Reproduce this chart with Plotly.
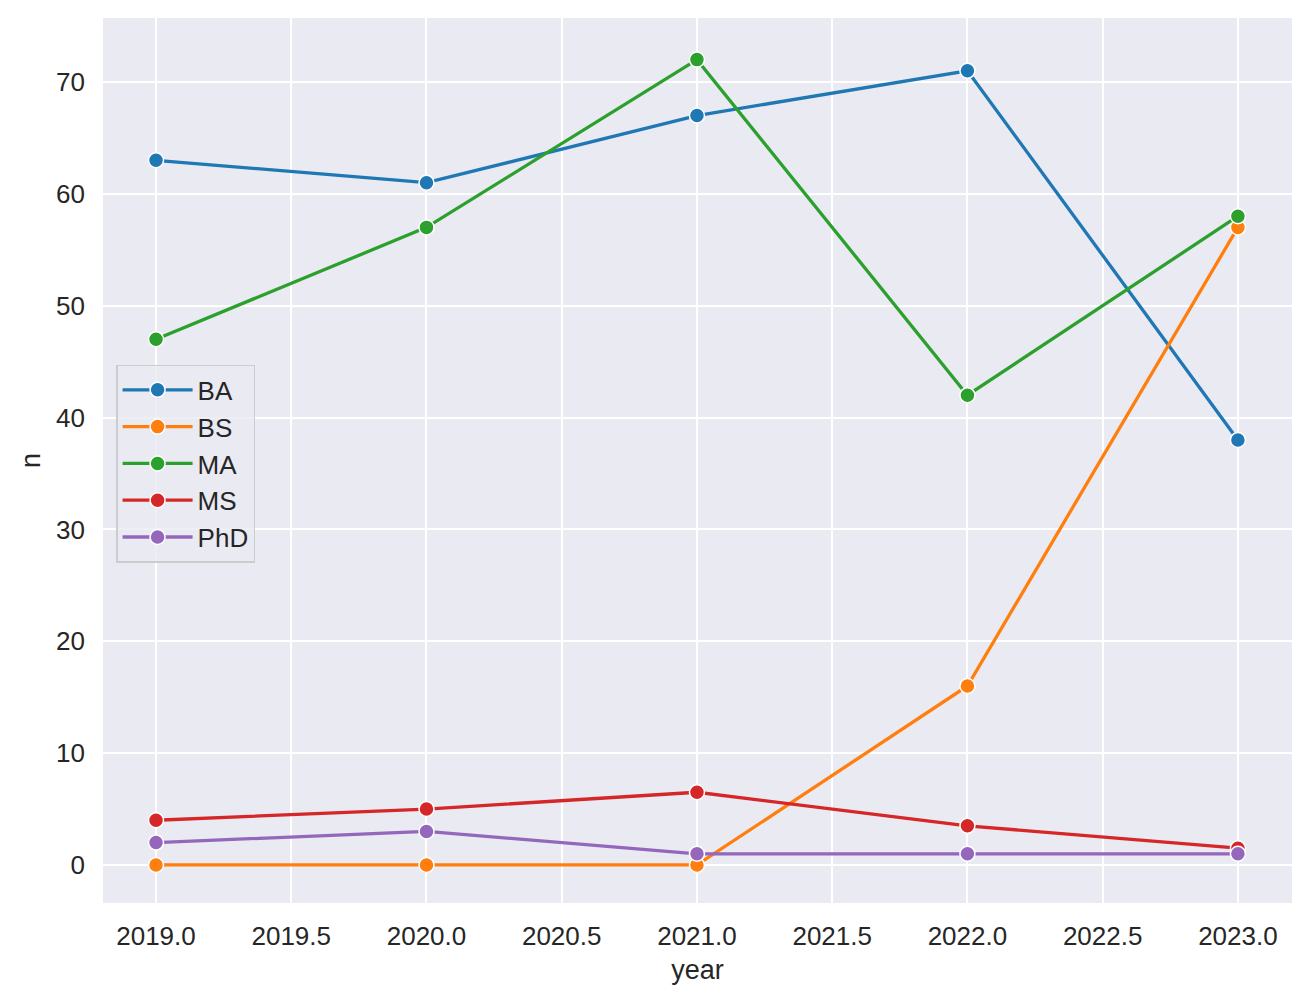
import plotly.graph_objects as go

years = [2019, 2020, 2021, 2022, 2023]
series_names = ["BA", "BS", "MA", "MS", "PhD"]
ba = [63, 61, 67, 71, 38]
bs = [0, 0, 0, 16, 57]
ma = [47, 57, 72, 42, 58]
ms = [4, 5, 6.5, 3.5, 1.5]
phd = [2, 3, 1, 1, 1]
colors = ["#1f77b4", "#ff7f0e", "#2ca02c", "#d62728", "#9467bd"]
x_ticks = [2019.0, 2019.5, 2020.0, 2020.5, 2021.0, 2021.5, 2022.0, 2022.5, 2023.0]
y_ticks = [0, 10, 20, 30, 40, 50, 60, 70]

fig = go.Figure()
for name, vals, c in zip(series_names, [ba, bs, ma, ms, phd], colors):
    fig.add_trace(go.Scatter(
        x=years, y=vals, name=name, mode="lines+markers",
        line=dict(color=c, width=3.3),
        marker=dict(color=c, size=15, line=dict(color="white", width=1.5)),
    ))

font_family = "Liberation Sans, Arial, sans-serif"
fig.update_layout(
    width=1303, height=994,
    margin=dict(l=95, r=19, t=10, b=99),
    paper_bgcolor="white",
    plot_bgcolor="#EAEAF2",
    font=dict(family=font_family, size=26, color="#262626"),
    showlegend=True,
    legend=dict(
        x=0.011, y=0.608, xanchor="left", yanchor="top",
        bgcolor="rgba(234,234,242,0.8)",
        bordercolor="#CCCCCC", borderwidth=1.5,
        font=dict(size=26, color="#262626"),
        itemwidth=70,
    ),
    xaxis=dict(
        range=[2018.804, 2023.2],
        tickvals=x_ticks,
        ticktext=[f"{v:.1f}" for v in x_ticks],
        showgrid=True, gridcolor="white", gridwidth=1.5,
        zeroline=False, showline=False, ticks="",
        tickfont=dict(size=26),
        ticklabelstandoff=15,
        title=dict(text="year", font=dict(size=27), standoff=10),
    ),
    yaxis=dict(
        range=[-3.4, 75.72],
        tickvals=y_ticks,
        showgrid=True, gridcolor="white", gridwidth=1.5,
        zeroline=False, showline=False, ticks="",
        tickfont=dict(size=26),
        ticklabelstandoff=17,
        title=dict(text="n", font=dict(size=27), standoff=7),
    ),
)

fig.write_html("out.html")
